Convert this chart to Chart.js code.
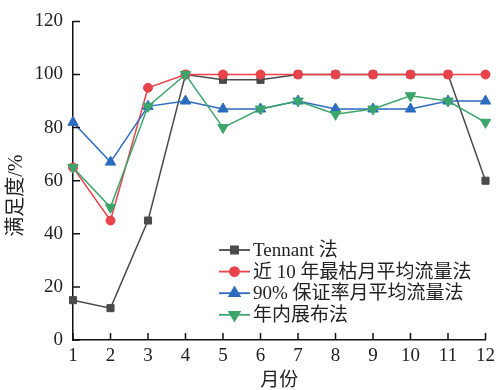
<!DOCTYPE html>
<html>
<head>
<meta charset="utf-8">
<script src="https://cdn.jsdelivr.net/npm/chart.js@4"></script>
<style>
    html, body { margin: 0; padding: 0; background: #fff; }
    #wrap { width: 500px; height: 390px; }
</style>
</head>
<body>
<div id="wrap"><canvas id="chart" width="500" height="390"></canvas></div>
<script>
const months = ['1', '2', '3', '4', '5', '6', '7', '8', '9', '10', '11', '12'];
const tennant = [15, 12, 45, 100, 98, 98, 100, 100, 100, 100, 100, 60];
const driestMonth = [65, 45, 95, 100, 100, 100, 100, 100, 100, 100, 100, 100];
const guarantee90 = [82, 67, 88, 90, 87, 87, 90, 87, 87, 87, 90, 90];
const yearSpread = [65, 50, 88, 100, 80, 87, 90, 85, 87, 92, 90, 82];
const seriesNames = ['Tennant 法', '近 10 年最枯月平均流量法', '90% 保证率月平均流量法', '年内展布法'];

const FONT = '"Liberation Serif", "Noto Sans CJK SC", serif';
const TEXT = '#222';

// ticks pointing into the plot, as in the original figure
const innerTicks = {
    id: 'innerTicks',
    afterDatasetsDraw(chart) {
        const ctx = chart.ctx;
        const x = chart.scales.x, y = chart.scales.y;
        ctx.save();
        ctx.strokeStyle = '#111';
        ctx.lineWidth = 1.5;
        ctx.beginPath();
        y.ticks.forEach((t, i) => {
            const py = y.getPixelForTick(i);
            ctx.moveTo(y.right, py);
            ctx.lineTo(y.right + 7, py);
        });
        x.ticks.forEach((t, i) => {
            const px = x.getPixelForTick(i);
            ctx.moveTo(px, x.top);
            ctx.lineTo(px, x.top - 7);
        });
        ctx.stroke();
        ctx.restore();
    }
};

// legend sits inside the plot, lower right
const insideLegend = {
    id: 'insideLegend',
    afterDraw(chart) {
        const ctx = chart.ctx;
        const x0 = 219, x1 = 250, top = 250, gap = 21.6;
        ctx.save();
        ctx.font = '19px ' + FONT;
        ctx.textBaseline = 'middle';
        chart.data.datasets.forEach((ds, i) => {
            const yy = top + i * gap;
            ctx.strokeStyle = ds.borderColor;
            ctx.lineWidth = 1.8;
            ctx.beginPath();
            ctx.moveTo(x0, yy);
            ctx.lineTo(x1, yy);
            ctx.stroke();
            ctx.fillStyle = ds.backgroundColor;
            ctx.strokeStyle = ds.borderColor;
            Chart.helpers.drawPoint(ctx, {
                pointStyle: ds.pointStyle,
                rotation: ds.pointRotation || 0,
                radius: ds.pointRadius,
                borderWidth: 1
            }, (x0 + x1) / 2, yy);
            ctx.fillStyle = TEXT;
            ctx.fillText(seriesNames[i], x1 + 3, yy + 1);
        });
        ctx.restore();
    }
};

new Chart(document.getElementById('chart'), {
    type: 'line',
    data: {
        labels: months,
        datasets: [
            { label: seriesNames[0], data: tennant, borderColor: '#4a4a4a', backgroundColor: '#4a4a4a',
              pointStyle: 'rect', pointRadius: 5, order: 3 },
            { label: seriesNames[1], data: driestMonth, borderColor: '#e8434b', backgroundColor: '#e8434b',
              pointStyle: 'circle', pointRadius: 4.5, order: 2 },
            { label: seriesNames[2], data: guarantee90, borderColor: '#2b6cbf', backgroundColor: '#2b6cbf',
              pointStyle: 'triangle', pointRadius: 6, order: 1 },
            { label: seriesNames[3], data: yearSpread, borderColor: '#3ba56b', backgroundColor: '#3ba56b',
              pointStyle: 'triangle', pointRotation: 180, pointRadius: 6, order: 0 }
        ]
    },
    options: {
        responsive: false,
        animation: false,
        devicePixelRatio: 1,
        elements: {
            line: { borderWidth: 1.5, tension: 0 },
            point: { borderWidth: 1, hoverRadius: 6 }
        },
        layout: { padding: { left: 0, right: 12, top: 21, bottom: 0 } },
        plugins: {
            legend: { display: false },
            tooltip: { enabled: false }
        },
        scales: {
            x: {
                offset: false,
                grid: { display: true, drawOnChartArea: false, drawTicks: false },
                border: { display: true, color: '#111', width: 1.5 },
                ticks: { color: TEXT, font: { family: FONT, size: 19 }, padding: 5, maxRotation: 0 },
                title: { display: true, text: '月份', color: TEXT,
                         font: { family: FONT, size: 19, lineHeight: 0.9 }, padding: 0 },
                afterFit: (axis) => { axis.height = 50; }
            },
            y: {
                min: 0,
                max: 120,
                grid: { display: true, drawOnChartArea: false, drawTicks: false },
                border: { display: true, color: '#111', width: 1.5 },
                ticks: { stepSize: 20, color: TEXT, font: { family: FONT, size: 19 }, padding: 10 },
                // trailing ideographic space nudges the rotated title down, like the original
                title: { display: true, text: '满足度/%\u3000  ', color: TEXT,
                         font: { family: FONT, size: 20, lineHeight: 1 }, padding: { top: 7, bottom: 0 } },
                afterFit: (axis) => { axis.width = 73; }
            }
        }
    },
    plugins: [innerTicks, insideLegend]
});
</script>
</body>
</html>
